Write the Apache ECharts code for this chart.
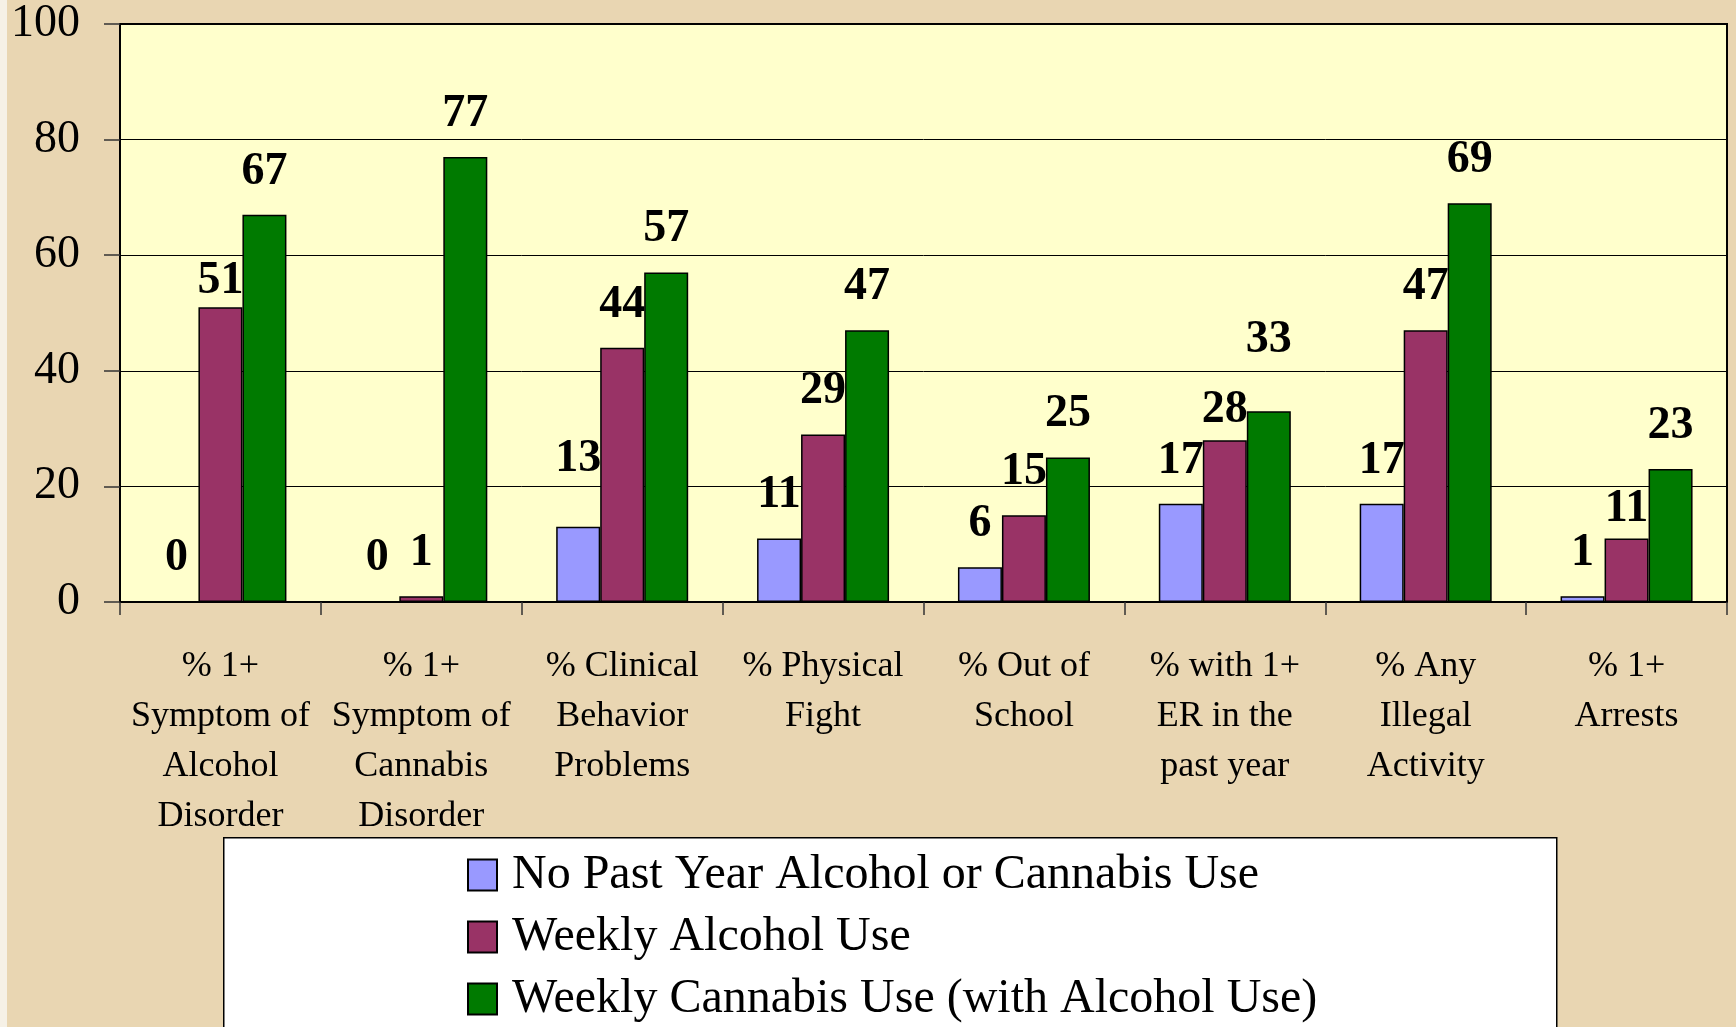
<!DOCTYPE html>
<html>
<head>
<meta charset="utf-8">
<script src="https://cdn.jsdelivr.net/npm/echarts@6/dist/echarts.min.js"></script>
<style>
  html, body { margin: 0; padding: 0; background: #e9d6b2; }
  #chart { width: 1736px; height: 1027px; }
</style>
</head>
<body>
<div id="chart"></div>
<script>
// categories along the x axis
const categories = [
  "% 1+\nSymptom of\nAlcohol\nDisorder",
  "% 1+\nSymptom of\nCannabis\nDisorder",
  "% Clinical\nBehavior\nProblems",
  "% Physical\nFight",
  "% Out of\nSchool",
  "% with 1+\nER in the\npast year",
  "% Any\nIllegal\nActivity",
  "% 1+\nArrests"
];

const seriesNames = [
  "No Past Year Alcohol or Cannabis Use",
  "Weekly Alcohol Use",
  "Weekly Cannabis Use (with Alcohol Use)"
];

const noUse = [0, 0, 13, 11, 6, 17, 17, 1];
const weeklyAlcohol = [51, 1, 44, 29, 15, 28, 47, 11];
const weeklyCannabis = [67, 77, 57, 47, 25, 33, 69, 23];

const yTicks = [0, 20, 40, 60, 80, 100];

const colors = ["#9999ff", "#993366", "#007a00"];

// label nudges (px, + = down) for the few labels moved by hand in the original
const labelNudge = {
  "1-0": 17, "0-2": -25, "1-5": 13, "2-5": -28, "1-7": 14
};

const serif = "'Liberation Serif', 'Times New Roman', serif";

function buildSeries(name, values, si) {
  return {
    name: name,
    type: "bar",
    barWidth: 44,
    barGap: "0%",
    itemStyle: { color: colors[si], borderColor: "#000", borderWidth: 1.5 },
    label: {
      show: true,
      position: "top",
      distance: 20,
      fontFamily: serif,
      fontWeight: "bold",
      fontSize: 46,
      color: "#000"
    },
    data: values.map((v, i) => {
      const n = labelNudge[si + "-" + i];
      return n ? { value: v, label: { offset: [0, n] } } : v;
    })
  };
}

const chart = echarts.init(document.getElementById("chart"));
chart.setOption({
  backgroundColor: "#e9d6b2",
  textStyle: { fontFamily: serif },
  graphic: [
    { type: "rect", left: 0, top: 0, shape: { width: 7, height: 1027 }, style: { fill: "#f6f1e6" }, silent: true },
    {
      type: "rect", left: 223, top: 837,
      shape: { width: 1333, height: 220 },
      style: { fill: "#fff", stroke: "#000", lineWidth: 1.5 },
      silent: true
    }
  ],
  grid: {
    left: 120, right: 9, top: 24, bottom: 425,
    show: true, backgroundColor: "#ffffcc", borderColor: "#000", borderWidth: 2
  },
  legend: {
    orient: "vertical",
    left: 467, top: 851,
    height: 250,
    padding: 0,
    icon: "rect",
    itemWidth: 29, itemHeight: 31,
    itemGap: 14,
    data: seriesNames,
    textStyle: { fontFamily: serif, fontSize: 48, color: "#000", lineHeight: 48, padding: [0, 0, 0, 10] }
  },
  xAxis: {
    type: "category",
    data: categories,
    axisLine: { lineStyle: { color: "#000", width: 2 } },
    axisTick: { show: true, length: 13, lineStyle: { color: "#333", width: 1.5 } },
    axisLabel: {
      interval: 0,
      margin: 40,
      fontFamily: serif,
      fontSize: 36,
      lineHeight: 50,
      color: "#000"
    }
  },
  yAxis: {
    type: "value",
    min: yTicks[0],
    max: yTicks[yTicks.length - 1],
    interval: 20,
    axisLine: { show: true, lineStyle: { color: "#000", width: 2 } },
    axisTick: { show: true, length: 16, lineStyle: { color: "#333", width: 1.5 } },
    splitLine: { lineStyle: { color: "#000", width: 1 } },
    axisLabel: { margin: 40, fontFamily: serif, fontSize: 46, color: "#000" }
  },
  series: [
    buildSeries(seriesNames[0], noUse, 0),
    buildSeries(seriesNames[1], weeklyAlcohol, 1),
    buildSeries(seriesNames[2], weeklyCannabis, 2)
  ]
});
</script>
</body>
</html>
